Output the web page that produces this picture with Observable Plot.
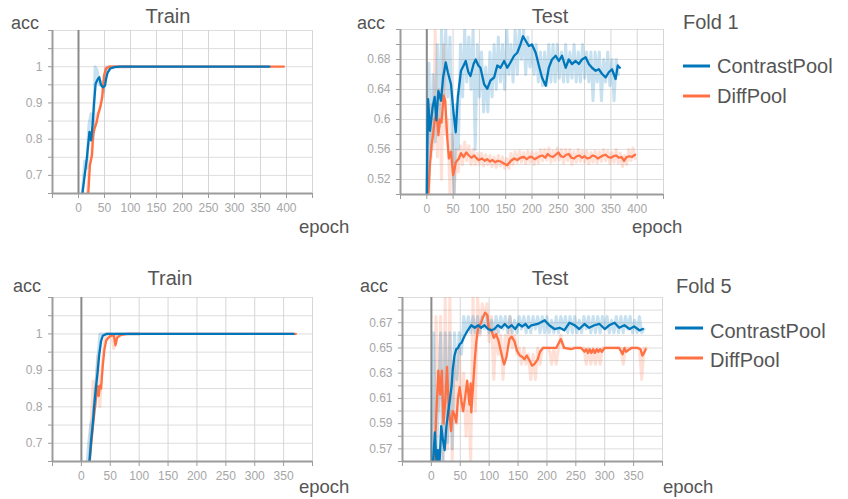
<!DOCTYPE html>
<html><head><meta charset="utf-8">
<script src="https://cdn.jsdelivr.net/npm/d3@7"></script>
<script src="https://cdn.jsdelivr.net/npm/@observablehq/plot@0.6"></script>
<style>
body{margin:0;background:#fff;}
#root{position:relative;width:848px;height:499px;overflow:hidden;font-family:"Liberation Sans",Arial,sans-serif;}
#root .pp{position:absolute;}
#root svg.ov{position:absolute;left:0;top:0;pointer-events:none;}
</style></head><body><div id="root"></div>
<script>
// ---------- tick values ----------
const trainYTicks = [0.65,0.7,0.75,0.8,0.85,0.9,0.95,1,1.05,1.1];
const trainYLabels = [0.7,0.8,0.9,1];
const f1TestYTicks = [0.5,0.52,0.54,0.56,0.58,0.6,0.62,0.64,0.66,0.68,0.7,0.72];
const f1TestYLabels = [0.52,0.56,0.6,0.64,0.68];
const f5TestYTicks = [0.56,0.57,0.58,0.59,0.6,0.61,0.62,0.63,0.64,0.65,0.66,0.67,0.68,0.69];
const f5TestYLabels = [0.57,0.59,0.61,0.63,0.65,0.67];
const f1XTicks = [-50,0,50,100,150,200,250,300,350,400,450];
const f1XLabels = [0,50,100,150,200,250,300,350,400];
const f5XTicks = [-50,0,50,100,150,200,250,300,350,400];
const f5XLabels = [0,50,100,150,200,250,300,350];

// ---------- smoothed series [epoch, acc] ----------
const f1TrainContrast = [[6,0.63],[8,0.656],[11,0.69],[16,0.747],[21,0.82],[24,0.797],[27,0.838],[30,0.902],[33,0.953],[37,0.966],[40,0.971],[42,0.957],[44,0.948],[47,0.943],[51,0.948],[53,0.966],[56,0.984],[61,0.995],[69,0.999],[80,1],[367,1]];
const f1TrainDiff = [[17,0.62],[19,0.656],[22,0.73],[26,0.756],[28,0.81],[31,0.83],[35,0.847],[38,0.87],[42,0.889],[45,0.91],[47,0.94],[49,0.975],[53,0.995],[59,1],[70,1],[395,1]];
const f5TrainContrast = [[12,0.63],[14,0.651],[17,0.71],[20,0.757],[22,0.8],[25,0.85],[28,0.894],[31,0.945],[34,0.98],[37,0.995],[43,1],[367,1]];
const f5TrainDiff = [[13,0.62],[16,0.68],[20,0.747],[25,0.82],[28,0.857],[30,0.83],[32,0.858],[34,0.85],[37,0.913],[40,0.959],[43,0.982],[47,0.99],[51,0.995],[56,0.997],[59,0.969],[62,0.99],[66,0.995],[71,0.998],[80,1],[371,1]];

const f1TestContrast = [[0,0.49],[1,0.56],[2.5,0.627],[6,0.585],[11,0.616],[15,0.63],[18,0.599],[22,0.638],[27,0.625],[31,0.656],[36,0.676],[40,0.663],[46,0.647],[51,0.608],[55,0.583],[59,0.63],[65,0.665],[70,0.672],[74,0.678],[79,0.663],[83,0.658],[89,0.674],[93,0.68],[98,0.672],[102,0.669],[109,0.647],[115,0.641],[121,0.652],[128,0.656],[134,0.672],[140,0.669],[147,0.678],[153,0.669],[159,0.676],[166,0.685],[172,0.689],[178,0.70],[183,0.711],[188,0.705],[194,0.698],[200,0.70],[207,0.689],[213,0.672],[219,0.656],[226,0.645],[232,0.669],[238,0.68],[245,0.685],[251,0.678],[257,0.685],[264,0.669],[270,0.68],[276,0.674],[283,0.678],[289,0.674],[295,0.68],[302,0.683],[308,0.674],[314,0.669],[321,0.665],[327,0.667],[333,0.661],[340,0.656],[346,0.663],[352,0.667],[359,0.654],[363,0.672],[367,0.669]];
const f1TestDiff = [[0,0.49],[3,0.5],[6,0.54],[9,0.566],[12,0.58],[15,0.6],[19,0.608],[22,0.579],[25,0.6],[28,0.596],[32,0.632],[35,0.625],[39,0.574],[42,0.548],[46,0.557],[50,0.526],[53,0.535],[55,0.543],[61,0.548],[65,0.555],[70,0.55],[75,0.556],[80,0.552],[85,0.549],[90,0.552],[95,0.548],[99,0.546],[105,0.548],[110,0.545],[115,0.547],[120,0.544],[125,0.546],[130,0.543],[135,0.545],[140,0.544],[145,0.542],[153,0.539],[160,0.545],[166,0.548],[172,0.546],[178,0.549],[185,0.55],[190,0.547],[195,0.55],[200,0.55],[205,0.547],[210,0.549],[215,0.551],[220,0.552],[225,0.549],[230,0.554],[235,0.551],[240,0.55],[245,0.553],[250,0.556],[255,0.551],[260,0.55],[265,0.553],[270,0.554],[275,0.549],[280,0.548],[285,0.551],[290,0.552],[295,0.549],[300,0.551],[305,0.548],[310,0.549],[315,0.552],[320,0.551],[325,0.548],[330,0.55],[335,0.552],[340,0.553],[345,0.55],[350,0.549],[355,0.551],[360,0.552],[365,0.549],[370,0.55],[375,0.545],[380,0.55],[385,0.551],[390,0.55],[396,0.553]];

const f5TestContrast = [[0,0.55],[3,0.56],[6,0.583],[9,0.558],[11.5,0.569],[14,0.558],[17,0.588],[20,0.577],[23,0.569],[26,0.588],[29,0.599],[32,0.609],[35,0.62],[37,0.633],[40,0.644],[43,0.649],[46,0.65],[49,0.653],[52,0.654],[58,0.66],[63,0.664],[69,0.668],[75,0.666],[81,0.668],[86,0.666],[92,0.668],[98,0.665],[104,0.664],[109,0.665],[115,0.668],[121,0.666],[127,0.669],[133,0.666],[139,0.668],[145,0.665],[151,0.669],[157,0.667],[163,0.669],[168,0.666],[173,0.668],[184,0.669],[196,0.672],[204,0.668],[213,0.665],[222,0.666],[230,0.664],[239,0.67],[248,0.668],[256,0.665],[265,0.669],[273,0.666],[282,0.668],[291,0.669],[300,0.665],[308,0.668],[317,0.67],[325,0.666],[334,0.668],[343,0.665],[351,0.667],[360,0.664],[366,0.665]];
const f5TestDiff = [[4,0.55],[7,0.58],[9,0.603],[12,0.632],[15,0.613],[18,0.632],[21,0.59],[24,0.608],[27,0.635],[30,0.603],[34,0.584],[37,0.6],[40,0.597],[43,0.591],[46,0.61],[49,0.619],[52,0.608],[55,0.6],[59,0.613],[62,0.624],[66,0.605],[68,0.622],[69,0.599],[72,0.619],[75,0.64],[78,0.656],[81,0.666],[86,0.67],[89,0.674],[93,0.678],[97,0.676],[99,0.666],[104,0.664],[108,0.658],[112,0.661],[116,0.656],[120,0.648],[124,0.64],[126,0.637],[130,0.643],[135,0.657],[139,0.659],[144,0.655],[148,0.648],[153,0.644],[157,0.643],[161,0.641],[165,0.644],[170,0.64],[174,0.636],[178,0.637],[184,0.641],[188,0.647],[193,0.65],[199,0.65],[216,0.65],[224,0.657],[230,0.65],[242,0.649],[248,0.65],[259,0.65],[265,0.647],[268,0.649],[271,0.646],[274,0.649],[277,0.646],[280,0.649],[283,0.646],[286,0.649],[289,0.647],[292,0.649],[295,0.647],[300,0.65],[325,0.65],[331,0.645],[334,0.65],[337,0.647],[346,0.65],[357,0.65],[362,0.649],[365,0.644],[368,0.646],[371,0.649]];

// ---------- raw series (one value every 4 epochs, from epoch 0) ----------
const rawStep = 4;
const f1TrainContrastRaw = [0.5,0.6,0.66,0.74,0.72,0.84,0.87,0.80,1.0,0.99,0.95,0.96,0.93,0.99,1,1,1,1,1,1,1,1,1,1,1,1];
const f1TrainDiffRaw = [0.5,0.5,0.5,0.55,0.62,0.72,0.74,0.82,0.84,0.87,0.88,0.91,0.92,1.0,0.99,1,1,1,1,1,1,1,1,1,1,1];
const f5TrainContrastRaw = [0.5,0.5,0.6,0.69,0.75,0.77,0.85,0.92,1.0,1,1,1,1,1,1,1,1,1,1,1,1,1,1,1,1,1];
const f5TrainDiffRaw = [0.5,0.5,0.5,0.6,0.72,0.87,0.80,0.94,0.80,0.92,0.98,1,1,1,0.96,1,1,1,1,1,1,1,1,1,1,1];
const f1TestContrastRaw = [0.50,0.675,0.55,0.66,0.57,0.70,0.59,0.72,0.62,0.72,
 0.63,0.71,0.58,0.50,0.62,0.56,0.70,0.63,0.72,0.65,
 0.71,0.64,0.72,0.56,0.70,0.63,0.69,0.61,0.67,0.61,
 0.69,0.63,0.70,0.64,0.71,0.65,0.70,0.64,0.72,0.66,
 0.70,0.65,0.72,0.66,0.72,0.68,0.72,0.66,0.71,0.67,
 0.70,0.66,0.70,0.65,0.69,0.645,0.69,0.645,0.70,0.65,
 0.70,0.65,0.70,0.655,0.69,0.65,0.70,0.65,0.69,0.655,
 0.70,0.65,0.69,0.65,0.70,0.655,0.69,0.65,0.69,0.625,
 0.69,0.65,0.69,0.625,0.68,0.65,0.69,0.645,0.68,0.625,
 0.68,0.66];
const f1TestDiffRaw = [0.50,0.50,0.62,0.56,0.72,0.55,0.64,0.52,0.70,0.58,
 0.60,0.50,0.58,0.50,0.56,0.53,0.565,0.54,0.57,0.545,
 0.565,0.54,0.56,0.54,0.555,0.54,0.555,0.538,0.553,0.54,
 0.552,0.537,0.55,0.536,0.552,0.538,0.55,0.535,0.548,0.535,
 0.555,0.54,0.557,0.542,0.558,0.543,0.556,0.541,0.558,0.543,
 0.557,0.54,0.556,0.542,0.56,0.545,0.56,0.546,0.562,0.543,
 0.558,0.545,0.562,0.546,0.56,0.542,0.56,0.545,0.56,0.54,
 0.557,0.543,0.56,0.544,0.558,0.543,0.558,0.541,0.556,0.543,
 0.558,0.542,0.557,0.544,0.56,0.545,0.558,0.541,0.556,0.543,
 0.56,0.542,0.555,0.537,0.552,0.54,0.56,0.545,0.562,0.548];
const f5TestContrastRaw = [0.56,0.662,0.56,0.60,0.662,0.56,0.662,0.575,0.662,0.57,
 0.662,0.625,0.662,0.645,0.675,0.662,0.675,0.662,0.675,0.662,
 0.675,0.662,0.675,0.665,0.675,0.662,0.672,0.662,0.675,0.662,
 0.675,0.665,0.675,0.662,0.675,0.662,0.672,0.662,0.675,0.665,
 0.675,0.662,0.675,0.662,0.675,0.665,0.675,0.662,0.675,0.662,
 0.675,0.662,0.672,0.662,0.675,0.662,0.675,0.665,0.675,0.662,
 0.675,0.662,0.675,0.662,0.672,0.662,0.675,0.665,0.675,0.662,
 0.675,0.662,0.675,0.662,0.675,0.665,0.675,0.662,0.672,0.662,
 0.675,0.662,0.675,0.662,0.675,0.665,0.675,0.662,0.672,0.662,
 0.675,0.662,0.665];
const f5TestDiffRaw = [0.56,0.56,0.675,0.60,0.675,0.56,0.69,0.57,0.69,0.56,
 0.64,0.59,0.65,0.60,0.63,0.58,0.62,0.56,0.69,0.60,
 0.69,0.66,0.685,0.675,0.685,0.655,0.675,0.625,0.665,0.645,
 0.66,0.625,0.66,0.65,0.675,0.65,0.66,0.645,0.65,0.637,
 0.65,0.637,0.645,0.625,0.645,0.625,0.65,0.637,0.65,0.65,
 0.65,0.65,0.637,0.65,0.637,0.65,0.66,0.65,0.65,0.65,
 0.65,0.65,0.65,0.65,0.65,0.65,0.65,0.637,0.65,0.637,
 0.65,0.637,0.65,0.637,0.65,0.65,0.65,0.65,0.65,0.65,
 0.65,0.65,0.65,0.637,0.65,0.65,0.65,0.65,0.65,0.65,
 0.65,0.625,0.65,0.65];

const seriesNames = ["ContrastPool","DiffPool"];
const BLUE = "#0077bb", ORANGE = "#ff7043";

const root = document.getElementById("root");

function fmtY(d){ return String(+d.toFixed(2)); }

function panel(c){
  const has = (arr, d) => arr.some(m => Math.abs(m - d) < 1e-9);
  const marks = [
    Plot.gridY(c.yTicks, {stroke:"#dedede", strokeOpacity:1}),
    Plot.gridX(c.xTicks, {stroke:"#d6d6d6", strokeOpacity:1}),
    Plot.ruleX([0], {stroke:"#8a8a8a", strokeWidth:2})
  ];
  for (const s of c.series) {
    marks.push(Plot.line(s.raw, {x:(d,i)=>i*rawStep, y:d=>d, stroke:s.color, strokeOpacity:0.22, strokeWidth:3, clip:true}));
  }
  for (const s of c.series) {
    marks.push(Plot.line(s.smooth, {x:d=>d[0], y:d=>d[1], stroke:s.color, strokeWidth:2.3, clip:true}));
  }
  marks.push(Plot.ruleX([c.xDomain[0]], {stroke:"#9c9c9c", strokeWidth:2}));
  marks.push(Plot.ruleY([c.yDomain[0]], {stroke:"#9c9c9c", strokeWidth:2}));
  marks.push(Plot.axisY(c.yTicks, {anchor:"left", tickSize:4, tickPadding:6, stroke:"#9c9c9c", fill:"#a6a6a6", fontSize:12, label:null,
    tickFormat: d => has(c.yLabels, d) ? fmtY(d) : ""}));
  marks.push(Plot.axisX(c.xTicks, {anchor:"bottom", tickSize:5, tickPadding:5, stroke:"#9c9c9c", fill:"#a6a6a6", fontSize:12, label:null,
    tickFormat: d => has(c.xLabels, d) ? String(d) : ""}));
  const svg = Plot.plot({
    width:c.width, height:c.height,
    marginLeft:c.mL, marginRight:c.mR, marginTop:c.mT, marginBottom:c.mB,
    x:{domain:c.xDomain}, y:{domain:c.yDomain},
    style:{fontFamily:"Liberation Sans, Arial, sans-serif", background:"transparent", overflow:"visible"},
    marks
  });
  const wrap = document.createElement("div");
  wrap.className = "pp";
  wrap.style.left = c.left + "px";
  wrap.style.top = c.top + "px";
  wrap.appendChild(svg);
  root.appendChild(wrap);
}

panel({left:0, top:0, width:340, height:225, mL:52, mR:28, mT:30, mB:32,
  xDomain:[-50,450], xTicks:f1XTicks, xLabels:f1XLabels,
  yDomain:[0.65,1.1], yTicks:trainYTicks, yLabels:trainYLabels,
  series:[{raw:f1TrainDiffRaw, smooth:f1TrainDiff, color:ORANGE},{raw:f1TrainContrastRaw, smooth:f1TrainContrast, color:BLUE}]});
panel({left:348, top:0, width:330, height:225, mL:52, mR:15, mT:29, mB:31,
  xDomain:[-50,450], xTicks:f1XTicks, xLabels:f1XLabels,
  yDomain:[0.5,0.72], yTicks:f1TestYTicks, yLabels:f1TestYLabels,
  series:[{raw:f1TestDiffRaw, smooth:f1TestDiff, color:ORANGE},{raw:f1TestContrastRaw, smooth:f1TestContrast, color:BLUE}]});
panel({left:0, top:270, width:340, height:220, mL:52, mR:28, mT:27, mB:29,
  xDomain:[-50,400], xTicks:f5XTicks, xLabels:f5XLabels,
  yDomain:[0.65,1.1], yTicks:trainYTicks, yLabels:trainYLabels,
  series:[{raw:f5TrainDiffRaw, smooth:f5TrainDiff, color:ORANGE},{raw:f5TrainContrastRaw, smooth:f5TrainContrast, color:BLUE}]});
panel({left:348, top:270, width:330, height:220, mL:54, mR:16, mT:27, mB:29,
  xDomain:[-50,400], xTicks:f5XTicks, xLabels:f5XLabels,
  yDomain:[0.56,0.69], yTicks:f5TestYTicks, yLabels:f5TestYLabels,
  series:[{raw:f5TestDiffRaw, smooth:f5TestDiff, color:ORANGE},{raw:f5TestContrastRaw, smooth:f5TestContrast, color:BLUE}]});

// ---------- text overlay ----------
const ov = d3.select(root).append("svg").attr("class","ov").attr("width",848).attr("height",499)
  .style("font-family","Liberation Sans, Arial, sans-serif");
const texts = [
  {t:"Train", x:168, y:23, s:20, a:"middle"},
  {t:"acc", x:11, y:29, s:18},
  {t:"epoch", x:299, y:233, s:18.5},
  {t:"Test", x:550, y:23, s:20, a:"middle"},
  {t:"acc", x:357, y:29, s:18},
  {t:"epoch", x:632, y:233, s:18.5},
  {t:"Train", x:170, y:285, s:20, a:"middle"},
  {t:"acc", x:13, y:292, s:18},
  {t:"epoch", x:299, y:493, s:18.5},
  {t:"Test", x:550, y:285, s:20, a:"middle"},
  {t:"acc", x:360, y:292, s:18},
  {t:"epoch", x:663, y:493, s:18.5},
  {t:"Fold 1", x:683, y:29, s:20},
  {t:"Fold 5", x:676, y:293, s:20}
];
for (const d of texts) {
  ov.append("text").attr("x",d.x).attr("y",d.y).attr("font-size",d.s).attr("fill","#555")
    .attr("text-anchor", d.a || "start").text(d.t);
}
const legends = [
  {x0:683, x1:710, tx:717, ys:[66,96], yt:[73,103]},
  {x0:675, x1:703, tx:710, ys:[328,358], yt:[338,367]}
];
const legColors = [BLUE, ORANGE];
for (const L of legends) {
  seriesNames.forEach((n,i) => {
    ov.append("line").attr("x1",L.x0).attr("x2",L.x1).attr("y1",L.ys[i]).attr("y2",L.ys[i])
      .attr("stroke",legColors[i]).attr("stroke-width",3);
    ov.append("text").attr("x",L.tx).attr("y",L.yt[i]).attr("font-size",20).attr("fill","#555").text(n);
  });
}
</script></body></html>
